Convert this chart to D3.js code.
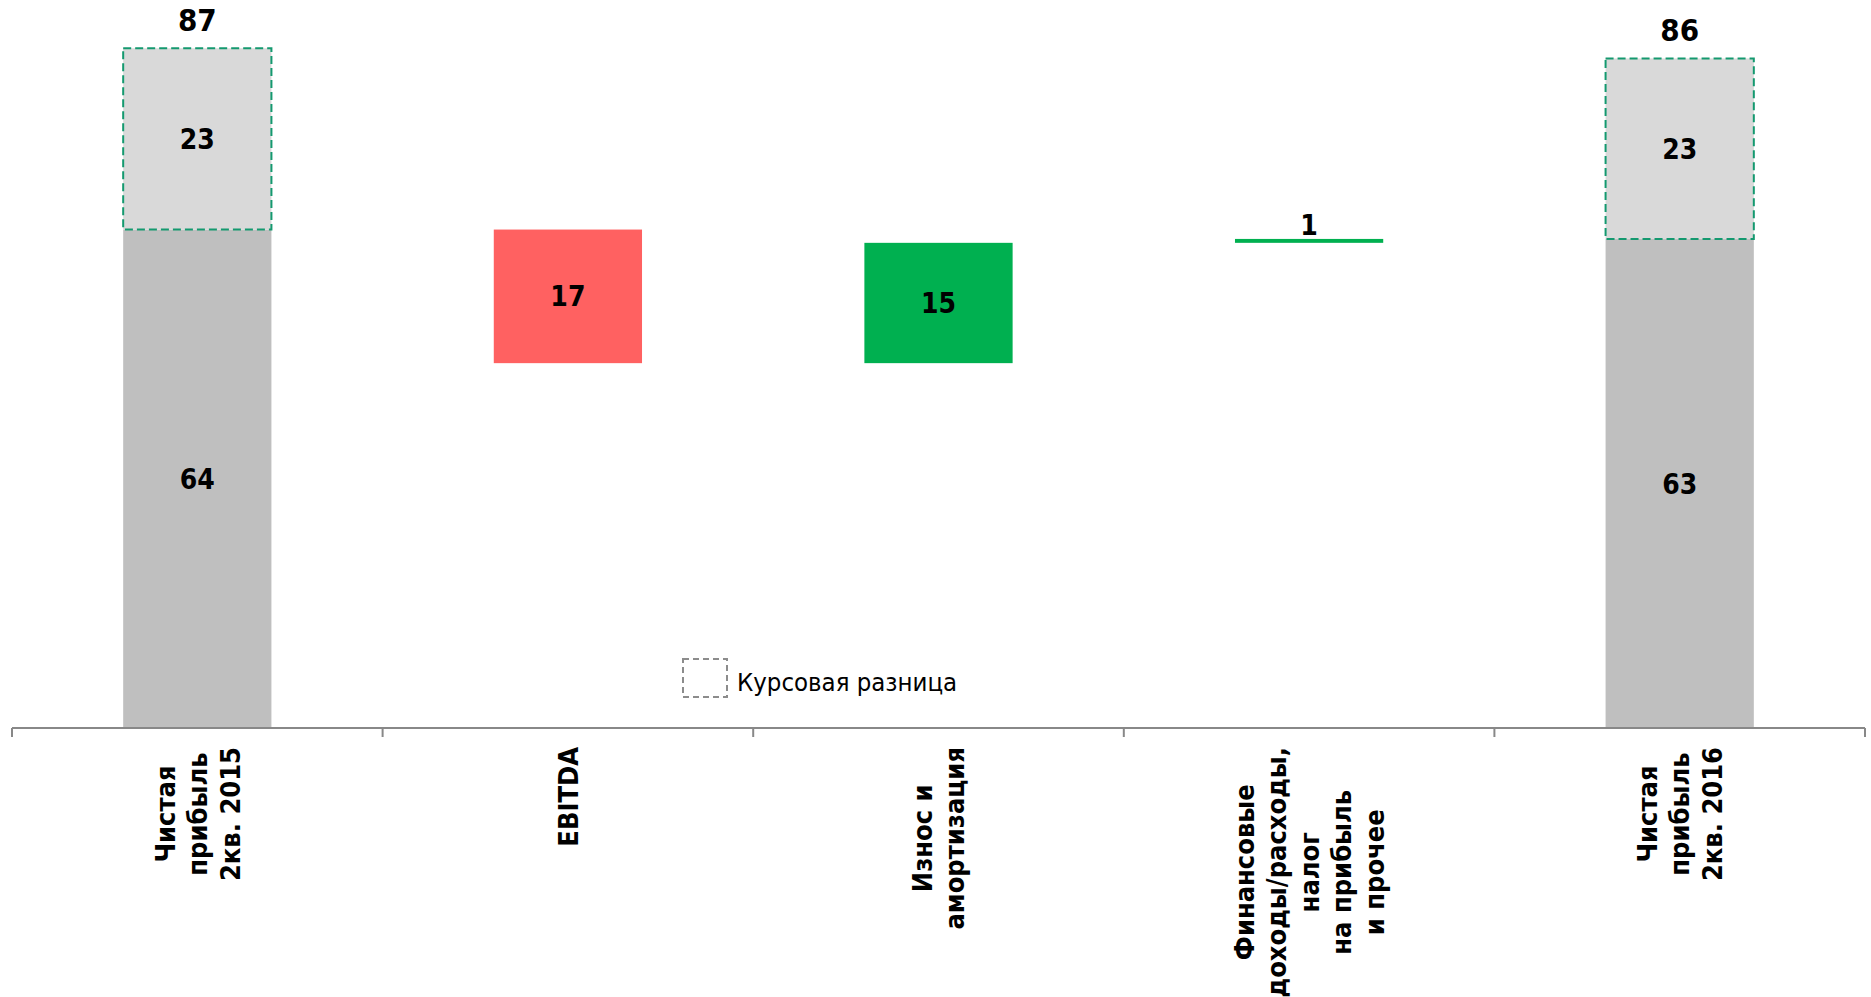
<!DOCTYPE html>
<html><head><meta charset="utf-8">
<script src="https://cdn.jsdelivr.net/npm/d3@7"></script>
<style>
html,body{margin:0;padding:0;background:#fff;}
svg{display:block;}
.lbl{font-family:"DejaVu Sans Condensed","DejaVu Sans",sans-serif;font-stretch:condensed;font-weight:bold;fill:#000;}
</style></head>
<body>
<svg id="chart" width="1871" height="997"></svg>
<script>
// ---- data ----
const categories = [
  ["Чистая", "прибыль", "2кв. 2015"],
  ["EBITDA"],
  ["Износ и", "амортизация"],
  ["Финансовые", "доходы/расходы,", "налог", "на прибыль", "и прочее"],
  ["Чистая", "прибыль", "2кв. 2016"]
];
const totalIndex = [0, 4];            // categories that are totals
const baseValues = [63.8, 62.6];      // net profit without FX difference
const fxValues = [23.2, 23.1];        // FX difference part
const baseLabels = ["64", "63"];
const fxLabels = ["23", "23"];
const totalLabels = ["87", "86"];
const deltaIndex = [1, 2, 3];
const deltaValues = [-17.1, 15.4, 0.5];
const deltaLabels = ["17", "15", "1"];
const legendLabel = "Курсовая разница";

// ---- layout ----
const svg = d3.select("#chart");
const axisY = 728;
const x = d3.scaleBand().domain(d3.range(categories.length))
  .range([12, 1865]).paddingInner(0.6).paddingOuter(0.3);
const y = d3.scaleLinear().domain([0, 87]).range([axisY, 48.3]);

const colBase = "#bfbfbf", colFx = "#d9d9d9", colFxStroke = "#14996f";
const colDown = "#ff6161", colUp = "#00b050";

// totals
totalIndex.forEach((ci, k) => {
  const x0 = x(ci), w = x.bandwidth();
  const b = baseValues[k], f = fxValues[k];
  svg.append("rect").attr("x", x0).attr("y", y(b)).attr("width", w)
    .attr("height", y(0) - y(b)).attr("fill", colBase);
  svg.append("rect").attr("x", x0).attr("y", y(b + f)).attr("width", w)
    .attr("height", y(b) - y(b + f)).attr("fill", colFx)
    .attr("stroke", colFxStroke).attr("stroke-width", 2).attr("stroke-dasharray", "8,4");
  svg.append("text").attr("class", "lbl").attr("x", x0 + w / 2).attr("y", (y(b) + y(0)) / 2)
    .attr("dy", "0.36em").attr("text-anchor", "middle").attr("font-size", 28).text(baseLabels[k]);
  svg.append("text").attr("class", "lbl").attr("x", x0 + w / 2).attr("y", (y(b) + y(b + f)) / 2)
    .attr("dy", "0.36em").attr("text-anchor", "middle").attr("font-size", 28).text(fxLabels[k]);
  svg.append("text").attr("class", "lbl").attr("x", x0 + w / 2).attr("y", y(b + f) - 17)
    .attr("text-anchor", "middle").attr("font-size", 31).text(totalLabels[k]);
});

// deltas
let running = baseValues[0];
deltaIndex.forEach((ci, k) => {
  const v = deltaValues[k];
  const start = running, end = running + v;
  running = end;
  const top = Math.max(start, end), bot = Math.min(start, end);
  const x0 = x(ci), w = x.bandwidth();
  svg.append("rect").attr("x", x0).attr("y", y(top)).attr("width", w)
    .attr("height", y(bot) - y(top)).attr("fill", v < 0 ? colDown : colUp);
  const h = y(bot) - y(top);
  const t = svg.append("text").attr("class", "lbl").attr("x", x0 + w / 2)
    .attr("text-anchor", "middle").attr("font-size", 28).text(deltaLabels[k]);
  if (h > 40) t.attr("y", (y(top) + y(bot)) / 2).attr("dy", "0.36em");
  else t.attr("y", y(top) - 4);
});

// axis
const ax = svg.append("g").attr("transform", `translate(0,${axisY})`);
ax.append("line").attr("x1", 12).attr("x2", 1865).attr("y1", 0).attr("y2", 0)
  .attr("stroke", "#888").attr("stroke-width", 2);
const step = x.step();
const tickXs = d3.range(categories.length + 1).map(i => x(0) - x.paddingOuter() * step + i * step);
ax.selectAll("line.tick").data(tickXs).join("line").attr("class", "tick")
  .attr("x1", d => d).attr("x2", d => d).attr("y1", 0).attr("y2", 9)
  .attr("stroke", "#888").attr("stroke-width", 2);

// category labels (rotated)
const lineH = 32.5, fs = 27, labelTop = 747;
categories.forEach((lines, ci) => {
  const cx = x(ci) + x.bandwidth() / 2;
  const g = svg.append("g").attr("transform", `translate(${cx},${labelTop}) rotate(-90)`);
  const texts = lines.map((ln, i) => g.append("text").attr("class", "lbl")
    .attr("font-size", fs).attr("text-anchor", "middle")
    .attr("y", (i - (lines.length - 1) / 2) * lineH).attr("dy", "0.36em").text(ln));
  const maxLen = d3.max(texts, t => t.node().getComputedTextLength());
  texts.forEach(t => t.attr("x", -maxLen / 2));
});

// legend
const lg = svg.append("g");
lg.append("rect").attr("x", 683).attr("y", 659).attr("width", 44).attr("height", 38)
  .attr("fill", "none").attr("stroke", "#8c8c8c").attr("stroke-width", 2).attr("stroke-dasharray", "6,4");
lg.append("text").attr("x", 737).attr("y", 690.5)
  .attr("font-family", "'DejaVu Sans Condensed','DejaVu Sans',sans-serif").attr("font-stretch", "condensed")
  .attr("font-size", 25.5).attr("fill", "#000").text(legendLabel);
</script>
</body></html>
